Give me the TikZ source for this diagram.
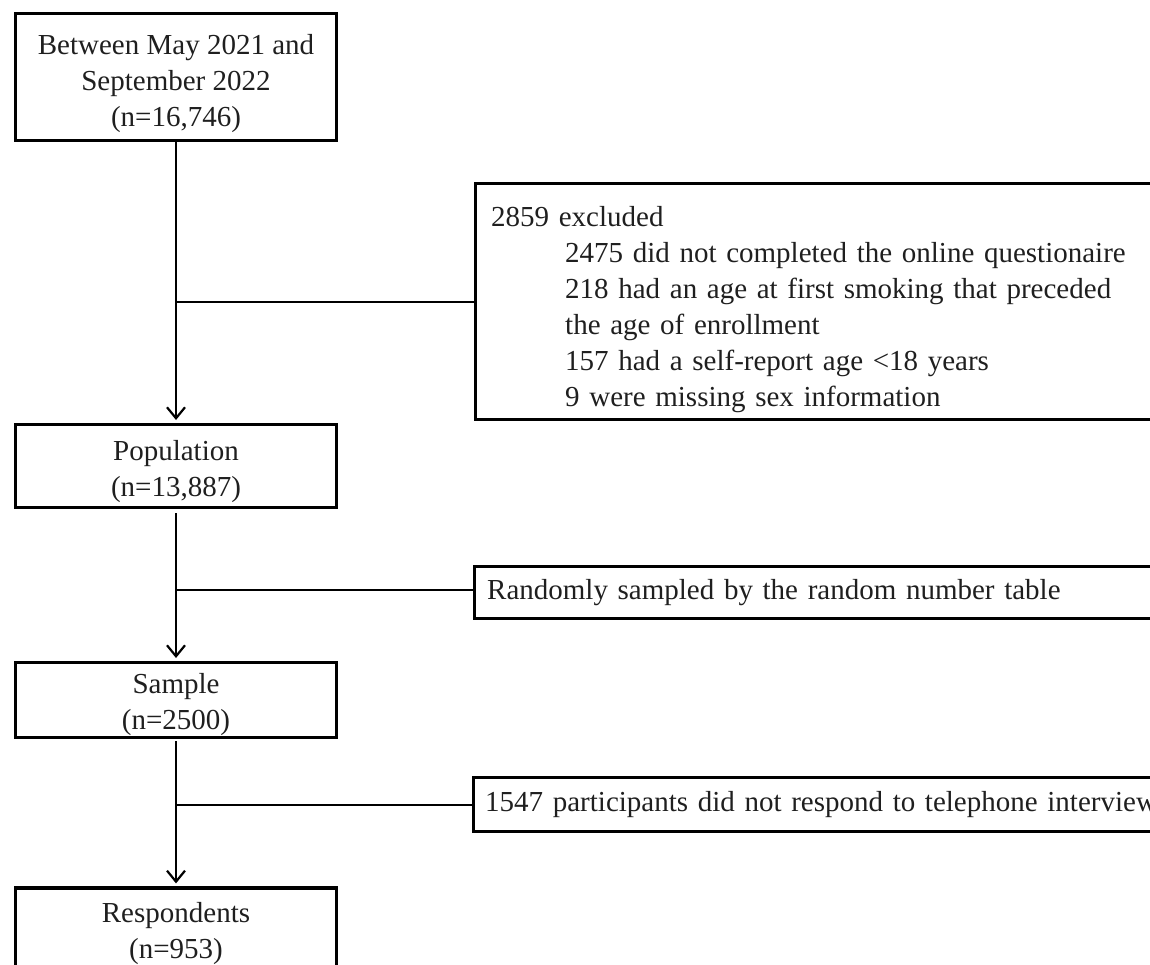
\documentclass[tikz,border=0pt]{standalone}
\usepackage{fontspec}
\setmainfont{Liberation Serif}
\usetikzlibrary{arrows.meta}
\newcommand\upstrut[1]{\rule{0pt}{#1}}
\begin{document}
\begin{tikzpicture}[x=1pt,y=-1pt,
  txt/.style={font=\fontsize{29}{36}\selectfont, text=black!88},
  box/.style={txt, draw, line width=3.2pt, align=center, inner sep=0pt, minimum width=320.8pt},
  sidebox/.style={txt, draw, line width=3.2pt, align=left, inner ysep=0pt, text width=700pt, anchor=west},
  conn/.style={line width=2.2pt},
  arr/.style={conn, -{Straight Barb[length=11pt,width=18pt,line width=2.2pt]}, shorten >=3pt}]
\useasboundingbox (0,0) rectangle (1150,965);
\clip (0,0) rectangle (1150,965);
% main column
\node[box, minimum height=126.8pt] (start) at (176,77) {\upstrut{34pt}Between May 2021 and\\September 2022\\(n=16,746)};
\node[box, minimum height=82.8pt] (pop) at (176,466) {\upstrut{32pt}Population\\(n=13,887)};
\node[box, minimum height=74.8pt] (sample) at (176,700) {\upstrut{30pt}Sample\\(n=2500)};
\node[box, minimum height=84pt] (resp) at (176,930) {\upstrut{28pt}Respondents\\(n=953)};
% side boxes
\node[sidebox, inner xsep=16pt, minimum height=235.8pt] (excl) at (473.6,301.5) {\upstrut{36pt}2859 excluded\\
\hspace*{74pt}2475 did not completed the online questionaire\\
\hspace*{74pt}218 had an age at first smoking that preceded\\
\hspace*{74pt}the age of enrollment\\
\hspace*{74pt}157 had a self-report age <18 years\\
\hspace*{74pt}9 were missing sex information};
\node[sidebox, inner xsep=13pt, minimum height=51.8pt] (rand) at (472.6,592.5) {Randomly sampled by the random number table};
\node[sidebox, inner xsep=12pt, minimum height=53.8pt] (resp1547) at (471.6,804.5) {1547 participants did not respond to telephone interview};
% connectors
\draw[arr] (start.south) -- (pop.north);
\draw[arr, shorten <=4pt] (pop.south) -- (sample.north);
\draw[arr, shorten <=2pt] (sample.south) -- (resp.north);
\coordinate (b1) at (176,302);
\coordinate (b2) at (176,590);
\coordinate (b3) at (176,805);
\draw[conn] (b1) -- (b1 -| excl.west);
\draw[conn] (b2) -- (b2 -| rand.west);
\draw[conn] (b3) -- (b3 -| resp1547.west);
\end{tikzpicture}
\end{document}
